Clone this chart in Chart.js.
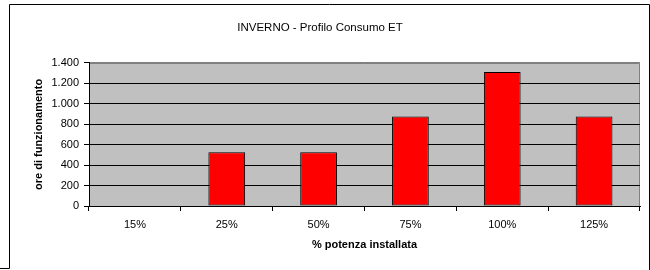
<!DOCTYPE html>
<html>
<head>
<meta charset="utf-8">
<script src="https://cdn.jsdelivr.net/npm/chart.js@4/dist/chart.umd.min.js"></script>
<style>
  html, body { margin: 0; padding: 0; background: #ffffff; }
  canvas { display: block; }
</style>
</head>
<body>
<canvas id="c" width="650" height="270"></canvas>
<script>
const chartTitle = 'INVERNO - Profilo Consumo ET';
const xAxisTitle = '% potenza installata';
const yAxisTitle = 'ore di funzionamento';
const categories = ['15%', '25%', '50%', '75%', '100%', '125%'];
const oreFunzionamento = [0, 525, 525, 875, 1310, 875];
const yTickValues = [0, 200, 400, 600, 800, 1000, 1200, 1400];
const yTickLabels = ['0', '200', '400', '600', '800', '1.000', '1.200', '1.400'];

const FONT = '"Liberation Sans", Arial, sans-serif';

const plotBackground = {
  id: 'plotBackground',
  beforeDraw(chart) {
    const { ctx, chartArea: a } = chart;
    ctx.save();
    // outer frame
    ctx.strokeStyle = '#000000';
    ctx.lineWidth = 1;
    ctx.beginPath();
    ctx.moveTo(9.5, 268.5);
    ctx.lineTo(9.5, 4.5);
    ctx.lineTo(649.5, 4.5);
    ctx.lineTo(649.5, 270);
    ctx.moveTo(0, 268.5);
    ctx.lineTo(9.5, 268.5);
    ctx.stroke();
    // plot area
    ctx.fillStyle = '#C0C0C0';
    ctx.fillRect(a.left, a.top, a.right - a.left, a.bottom - a.top);
    ctx.strokeStyle = '#808080';
    ctx.beginPath();
    ctx.moveTo(a.left, Math.round(a.top) + 0.5);
    ctx.lineTo(Math.round(a.right) - 0.5, Math.round(a.top) + 0.5);
    ctx.lineTo(Math.round(a.right) - 0.5, a.bottom);
    ctx.stroke();
    ctx.restore();
  }
};

new Chart(document.getElementById('c'), {
  type: 'bar',
  data: {
    labels: categories,
    datasets: [{
      data: oreFunzionamento,
      backgroundColor: '#FF0000',
      borderColor: '#000000',
      borderWidth: 1,
      borderSkipped: false,
      barPercentage: 0.4,
      categoryPercentage: 1.0
    }]
  },
  options: {
    responsive: false,
    devicePixelRatio: 1,
    animation: false,
    layout: { padding: { left: 0, right: 10, top: 0, bottom: 0 } },
    plugins: {
      legend: { display: false },
      tooltip: { enabled: false },
      title: {
        display: true,
        text: chartTitle,
        color: '#000000',
        font: { family: FONT, size: 11.5, weight: 'normal', lineHeight: 1.2 },
        padding: { top: 21, bottom: 28 }
      }
    },
    scales: {
      x: {
        grid: {
          offset: true,
          drawOnChartArea: false,
          drawTicks: true,
          tickLength: 5,
          color: '#000000',
          tickColor: '#000000'
        },
        border: { display: true, color: '#000000', width: 1 },
        ticks: {
          color: '#000000',
          font: { family: FONT, size: 11 },
          padding: 7,
          maxRotation: 0,
          autoSkip: false
        },
        title: {
          display: true,
          text: xAxisTitle,
          color: '#000000',
          font: { family: FONT, size: 11, weight: 'bold', lineHeight: 1.2 },
          padding: { top: 0, bottom: 18 }
        },
        afterFit(scale) { scale.height = 64; }
      },
      y: {
        min: 0,
        max: 1400,
        afterBuildTicks(scale) { scale.ticks = yTickValues.map(v => ({ value: v })); },
        grid: {
          drawTicks: true,
          tickLength: 5,
          color: (c) => (c.tick && c.tick.value === 1400) ? '#808080' : '#000000',
          tickColor: '#000000',
          lineWidth: 1
        },
        border: { display: true, color: '#000000', width: 1 },
        ticks: {
          color: '#000000',
          font: { family: FONT, size: 11 },
          padding: 5,
          callback: (v) => yTickLabels[yTickValues.indexOf(v)]
        },
        title: {
          display: true,
          text: yAxisTitle,
          color: '#000000',
          font: { family: FONT, size: 11, weight: 'bold', lineHeight: 1.2 },
          padding: { top: 32, bottom: 0 }
        },
        afterFit(scale) { scale.width = 89; }
      }
    }
  },
  plugins: [plotBackground]
});
</script>
</body>
</html>
